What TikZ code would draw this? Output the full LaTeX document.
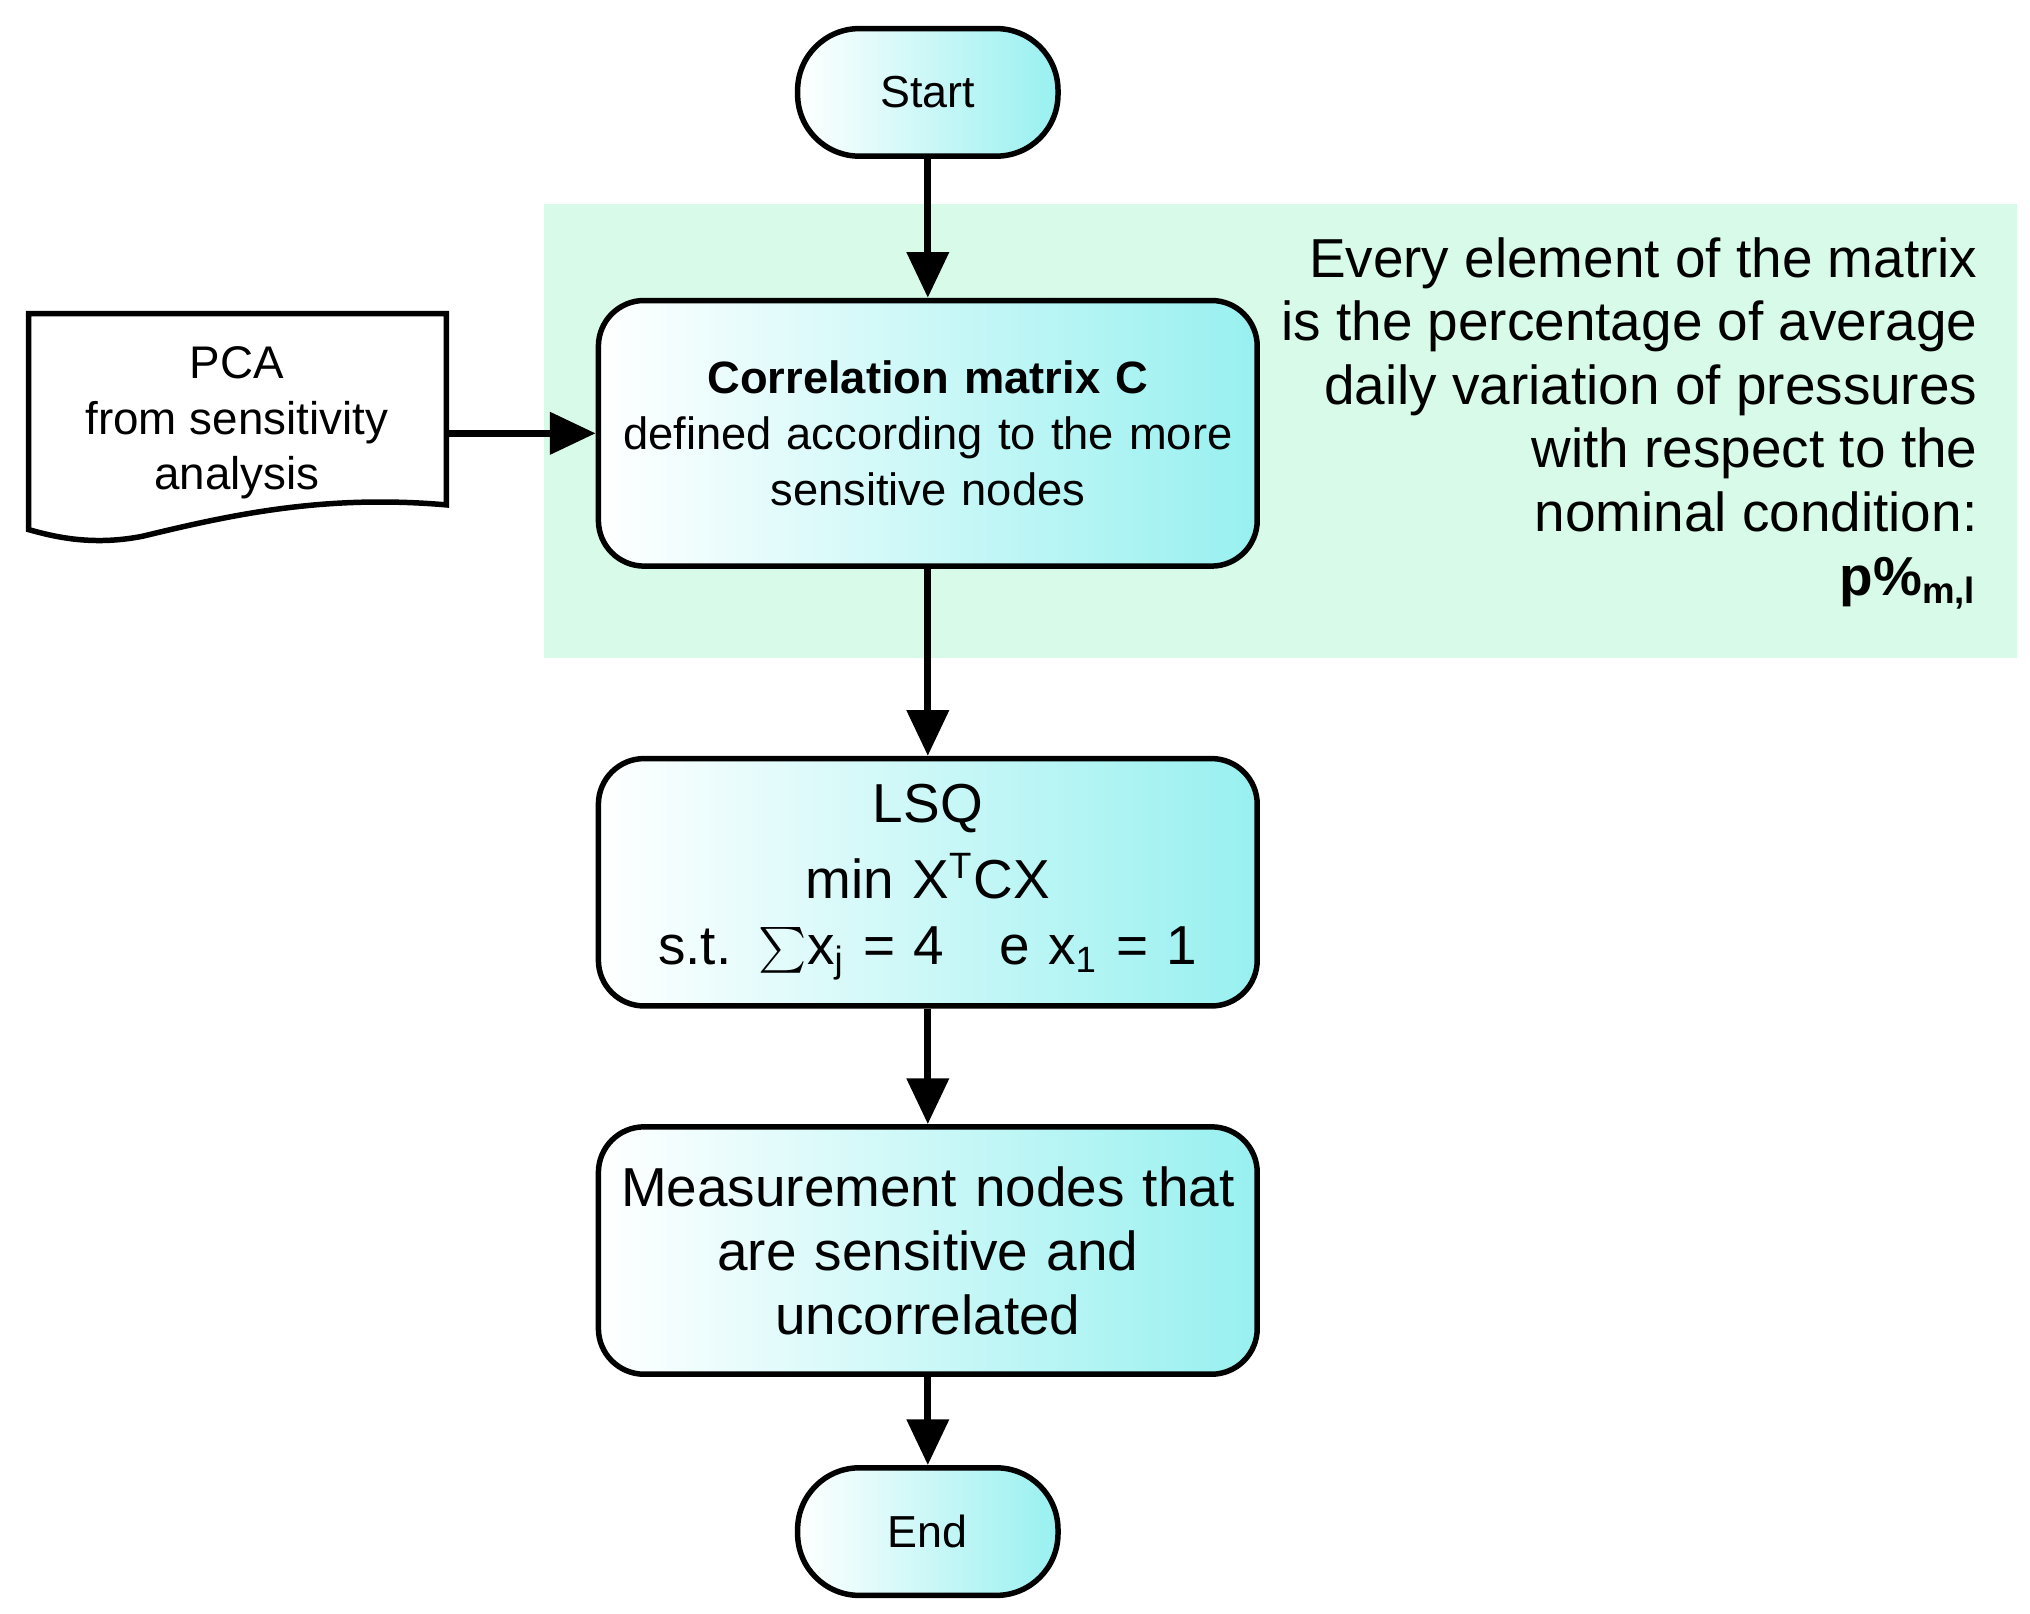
\documentclass[tikz,border=0pt]{standalone}
\usepackage{fontspec}
\setmainfont{Liberation Sans}
\usetikzlibrary{arrows.meta}
\definecolor{mint}{HTML}{D8FAE8}
\definecolor{cy}{HTML}{98F0F0}
\begin{document}
\begin{tikzpicture}[x=0.01cm,y=-0.01cm,
  box/.style={draw,line width=1.2pt,rounded corners=10pt,left color=white,right color=cy,align=center,text width=4.86cm,minimum width=5.06cm,inner sep=2pt},
  term/.style={draw,line width=1.2pt,rounded corners=13.5pt,left color=white,right color=cy,minimum width=2cm,minimum height=0.98cm,font=\fontsize{9.8}{12}\selectfont},
  arr/.style={-{Triangle[length=10pt,width=9pt]},line width=1.5pt}]
\useasboundingbox (0,0) rectangle (1560,1240);
\fill[mint] (418,157) rectangle (1550,506);
\node[term] (start) at (713,71) {Start};
\node[box,minimum height=2.04cm,font=\fontsize{9.9}{12.3}\selectfont] (corr) at (713,333) {\textbf{Correlation matrix C}\\defined according to the more\\sensitive nodes};
\node[box,minimum height=1.9cm,font=\fontsize{12}{14.5}\selectfont] (lsq) at (713,678) {LSQ\\[2pt]min X\textsuperscript{T}CX\\s.t. $\sum$x\textsubscript{j} = 4\quad e x\textsubscript{1} = 1};
\node[box,minimum height=1.9cm,font=\fontsize{12}{14}\selectfont] (meas) at (713,961) {Measurement nodes that\\are sensitive and\\uncorrelated};
\node[term] (end) at (713,1177) {End};
\draw[line width=1.2pt,fill=white] (22,241) -- (343,241) -- (343,388) .. controls (250,380) and (180,395) .. (110,412) .. controls (70,420) and (40,412) .. (22,407) -- cycle;
\coordinate (pcaR) at (343,333);
\node[align=center,font=\fontsize{10}{12.2}\selectfont] (pca) at (182,325) {PCA\\from sensitivity\\analysis};
\node[align=right,anchor=north east,font=\fontsize{12}{13.9}\selectfont] (note) at (1532,170) {Every element of the matrix\\is the percentage of average\\daily variation of pressures\\with respect to the\\nominal condition:\\\textbf{p\%\textsubscript{m,l}}};
\draw[arr] (start) -- (corr);
\draw[arr] (pcaR) -- (corr);
\draw[arr] (corr) -- (lsq);
\draw[arr] (lsq) -- (meas);
\draw[arr] (meas) -- (end);
\end{tikzpicture}
\end{document}
